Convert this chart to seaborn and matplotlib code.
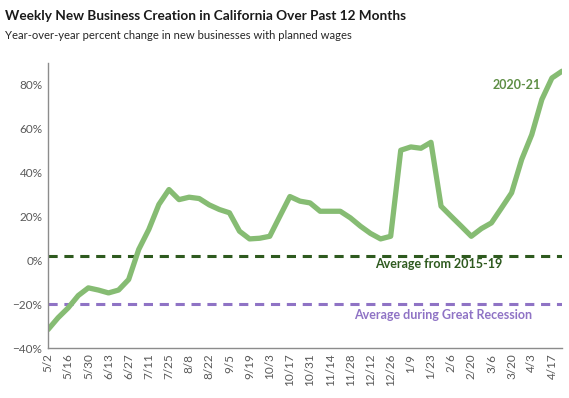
import pandas as pd
import seaborn as sns
import matplotlib.pyplot as plt
from matplotlib.ticker import PercentFormatter

weeks = ['5/2', '5/9', '5/16', '5/23', '5/30', '6/6', '6/13', '6/20', '6/27',
         '7/4', '7/11', '7/18', '7/25', '8/1', '8/8', '8/15', '8/22', '8/29',
         '9/5', '9/12', '9/19', '9/26', '10/3', '10/10', '10/17', '10/24',
         '10/31', '11/7', '11/14', '11/21', '11/28', '12/5', '12/12', '12/19',
         '12/26', '1/2', '1/9', '1/16', '1/23', '1/30', '2/6', '2/13', '2/20',
         '2/27', '3/6', '3/13', '3/20', '3/27', '4/3', '4/10', '4/17', '4/24']
yoy_change = [-31.6, -26.2, -21.7, -16.1, -12.6, -13.6, -14.9, -13.6, -8.8,
              4.9, 14.0, 25.4, 32.2, 27.6, 28.7, 28.1, 25.2, 23.1, 21.6, 13.2,
              9.7, 10.0, 10.9, 20.0, 29.0, 26.9, 26.1, 22.3, 22.3, 22.3, 19.3,
              15.5, 12.2, 9.7, 10.9, 50.1, 51.6, 51.0, 53.7, 24.6, 20.0, 15.5,
              10.9, 14.4, 17.0, 23.8, 30.7, 45.9, 57.2, 73.2, 83.0, 86.1]
avg_2015_19 = 2.0
avg_recession = -20.0

df = pd.DataFrame({'week': range(len(weeks)), 'change': yoy_change})

sns.set_style('white')
plt.rcParams['font.family'] = ['Lato', 'DejaVu Sans']

fig = plt.figure(figsize=(5.69, 3.98), dpi=100)
ax = fig.add_axes([0.0844, 0.1256, 0.9033, 0.717])

# reference lines first so the series sits on top
ax.axhline(avg_2015_19, color='#2E5A1F', lw=2.2, ls=(0, (3, 2.2)))
ax.axhline(avg_recession, color='#8F73C5', lw=2.2, ls=(0, (3, 2.2)))

sns.lineplot(data=df, x='week', y='change', color='#86BC73', lw=3.8, ax=ax)

ax.set_xlim(0, len(weeks) - 1)
ax.set_ylim(-40, 90)
ax.set_yticks(range(-40, 81, 20))
ax.yaxis.set_major_formatter(PercentFormatter(decimals=0))
ax.set_xticks(range(0, len(weeks), 2))
ax.set_xticklabels(weeks[::2], rotation=90)
ax.tick_params(axis='both', labelsize=8.5, labelcolor='#595959', length=0, pad=4)
ax.set_xlabel('')
ax.set_ylabel('')

for side in ['top', 'right']:
    ax.spines[side].set_visible(False)
for side in ['left', 'bottom']:
    ax.spines[side].set_color('#8C8C8C')
    ax.spines[side].set_linewidth(1)

ax.text(46.5, 80, '2020-21', color='#5E8E45', fontsize=9, fontweight='bold',
        ha='center', va='center')
ax.text(38.8, -1.8, 'Average from 2015-19', color='#2E5A1F', fontsize=9,
        fontweight='bold', ha='center', va='center')
ax.text(39.2, -25.0, 'Average during Great Recession', color='#8F73C5',
        fontsize=9, fontweight='bold', ha='center', va='center')

fig.text(0.009, 0.96, 'Weekly New Business Creation in California Over Past 12 Months',
         fontsize=9.8, fontweight='bold', color='#1a1a1a', va='center')
fig.text(0.009, 0.912, 'Year-over-year percent change in new businesses with planned wages',
         fontsize=8.1, color='#262626', va='center')

fig.savefig('out.png', dpi=100)
